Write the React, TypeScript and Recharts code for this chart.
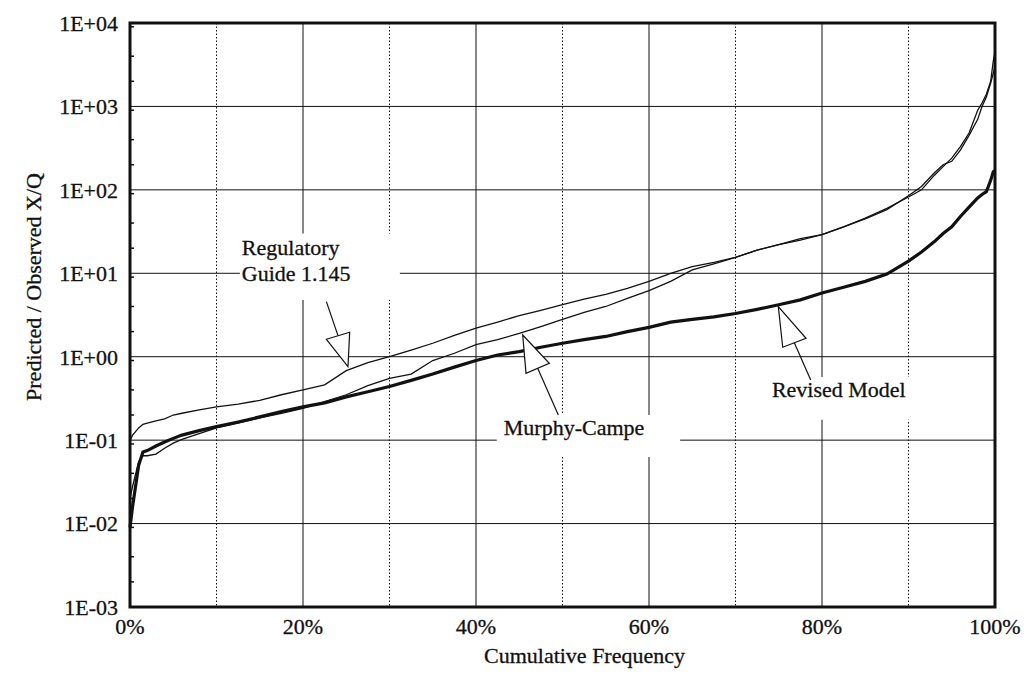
import React from 'react';
import {
  LineChart,
  Line,
  XAxis,
  YAxis,
  CartesianGrid,
  ReferenceArea,
  ReferenceDot,
} from 'recharts';

const pct = [
  0, 0.3, 1, 1.5, 2, 3, 4, 5, 6, 8, 10, 12.5, 15, 17.5, 20, 22.5, 25, 27.5, 30, 32.5, 35, 37.5,
  40, 42.5, 45, 47.5, 50, 52.5, 55, 57.5, 60, 62.5, 65, 67.5, 70, 72.5, 75, 77.5, 80, 82.5, 85,
  87.5, 90, 91.5, 93, 94, 95, 96, 97, 98, 98.5, 99, 99.5, 99.8, 100,
];

const regGuide = [
  0.1, 0.115, 0.14, 0.155, 0.16, 0.17, 0.18, 0.2, 0.21, 0.23, 0.25, 0.27, 0.3, 0.35, 0.4, 0.46,
  0.68, 0.85, 1.0, 1.2, 1.45, 1.8, 2.2, 2.6, 3.1, 3.6, 4.2, 4.9, 5.6, 6.6, 8.0, 10, 12, 13.5,
  15.5, 19, 22, 26, 29, 36, 46, 60, 82, 100, 150, 190, 240, 330, 480, 900, 1100, 1400, 2000,
  3500, 4500,
];

const murphyCampe = [
  0.02, 0.028, 0.055, 0.065, 0.065, 0.068, 0.08, 0.092, 0.102, 0.12, 0.14, 0.16, 0.185, 0.21,
  0.24, 0.29, 0.35, 0.45, 0.55, 0.62, 0.9, 1.1, 1.4, 1.6, 1.9, 2.3, 2.8, 3.4, 4.0, 5.0, 6.2, 8.0,
  11, 13, 15.5, 19, 22, 25, 29, 36, 45, 58, 85, 110, 160, 200, 220, 300, 450, 700, 1000, 1300,
  1900, 2500, 3000,
];

const revisedModel = [
  0.009, 0.016, 0.05, 0.072, 0.075, 0.085, 0.095, 0.105, 0.115, 0.13, 0.145, 0.165, 0.19, 0.22,
  0.25, 0.28, 0.33, 0.38, 0.44, 0.52, 0.62, 0.75, 0.9, 1.05, 1.15, 1.3, 1.45, 1.6, 1.75, 2.0,
  2.25, 2.6, 2.8, 3.0, 3.3, 3.7, 4.2, 4.8, 5.8, 6.8, 8.0, 9.8, 14, 18, 24, 30, 36, 48, 62, 80,
  88, 95, 130, 165, 170,
];

const xTicks = [0, 20, 40, 60, 80, 100];
const xMinorTicks = [10, 30, 50, 70, 90];
const yTicks = [0.001, 0.01, 0.1, 1, 10, 100, 1000, 10000];
const yTickLabels = ['1E-03', '1E-02', '1E-01', '1E+00', '1E+01', '1E+02', '1E+03', '1E+04'];
// small log ticks (2..9 of each decade) along the left frame
const yMinorTicks = yTicks
  .slice(0, -1)
  .flatMap((d) => [2, 3, 4, 5, 6, 7, 8, 9].map((m) => +(m * d).toPrecision(3)));

const data = pct.map((p, i) => ({
  p,
  reg: regGuide[i],
  mc: murphyCampe[i],
  rev: revisedModel[i],
}));

const FONT = '"Liberation Serif", "Times New Roman", serif';
const INK = '#111';
const textStyle = { fill: INK, fontFamily: FONT, fontSize: 22, stroke: INK, strokeWidth: 0.3 };

// arrow: tip sits on the curve, triangle + tail drawn relative to the tip (px)
function arrowShape(v1: number[], v2: number[], tail: number[][]) {
  return (props: any) => {
    const { cx, cy } = props;
    if (cx == null || cy == null) return null;
    return (
      <g>
        <line
          x1={cx + tail[0][0]}
          y1={cy + tail[0][1]}
          x2={cx + tail[1][0]}
          y2={cy + tail[1][1]}
          stroke={INK}
          strokeWidth={1.2}
        />
        <polygon
          points={`${cx},${cy} ${cx + v1[0]},${cy + v1[1]} ${cx + v2[0]},${cy + v2[1]}`}
          fill="#fff"
          stroke={INK}
          strokeWidth={1.2}
        />
      </g>
    );
  };
}

function boxText(lines: string[], dx: number, dy: number) {
  return (props: any) => {
    const vb = props.viewBox;
    if (!vb) return null;
    return (
      <text x={vb.x + dx} y={vb.y + dy} style={textStyle}>
        {lines.map((t, i) => (
          <tspan key={t} x={vb.x + dx} y={vb.y + dy + i * 26}>
            {t}
          </tspan>
        ))}
      </text>
    );
  };
}

export default function App() {
  return (
    <div style={{ position: 'absolute', left: 0, top: 0, background: '#fff' }}>
      <LineChart
        width={1024}
        height={676}
        data={data}
        margin={{ top: 23, right: 29, left: 10, bottom: 10 }}
      >
        <CartesianGrid stroke={INK} strokeWidth={1} />
        <CartesianGrid
          xAxisId="minor"
          horizontal={false}
          stroke={INK}
          strokeWidth={1}
          strokeDasharray="1.5 2"
        />
        <XAxis
          dataKey="p"
          type="number"
          domain={[0, 100]}
          ticks={xTicks}
          tickFormatter={(v) => `${v}%`}
          tickLine={false}
          axisLine={false}
          tickSize={6}
          tickMargin={5}
          height={59}
          tick={textStyle}
          label={{
            content: (props: any) => {
              const vb = props.viewBox;
              return (
                <text
                  x={vb.x + vb.width / 2 + 22}
                  y={vb.y + 56}
                  textAnchor="middle"
                  style={textStyle}
                >
                  Cumulative Frequency
                </text>
              );
            },
          }}
        />
        <XAxis xAxisId="minor" dataKey="p" type="number" domain={[0, 100]} ticks={xMinorTicks} hide />
        <YAxis
          scale="log"
          domain={[0.001, 10000]}
          ticks={yTicks}
          allowDataOverflow
          tickFormatter={(v) => yTickLabels[yTicks.indexOf(v)] ?? ''}
          tickLine={false}
          axisLine={false}
          tickSize={6}
          tickMargin={6}
          width={120}
          tick={textStyle}
          label={{
            content: (props: any) => {
              const vb = props.viewBox;
              const cx = vb.x + 31;
              const cy = vb.y + vb.height / 2 - 28;
              return (
                <text
                  x={cx}
                  y={cy}
                  transform={`rotate(-90, ${cx}, ${cy})`}
                  textAnchor="middle"
                  style={textStyle}
                >
                  Predicted / Observed X/Q
                </text>
              );
            },
          }}
        />
        <YAxis
          yAxisId="minor"
          scale="log"
          domain={[0.001, 10000]}
          ticks={yMinorTicks}
          allowDataOverflow
          mirror
          axisLine={false}
          tickLine={{ stroke: INK, strokeWidth: 1.5 }}
          tickSize={4}
          tick={() => <g />}
        />

        {/* white boxes behind the annotation texts */}
        <ReferenceArea
          x1={12.7}
          x2={31.2}
          y1={4.8}
          y2={30}
          fill="#fff"
          fillOpacity={1}
          stroke="none"
          label={{ content: boxText(['Regulatory', 'Guide 1.145'], 2, 22) }}
        />
        <ReferenceArea
          x1={42.4}
          x2={63.6}
          y1={0.063}
          y2={0.2}
          fill="#fff"
          fillOpacity={1}
          stroke="none"
          label={{ content: boxText(['Murphy-Campe'], 7, 20) }}
        />
        <ReferenceArea
          x1={73.4}
          x2={91.3}
          y1={0.175}
          y2={0.57}
          fill="#fff"
          fillOpacity={1}
          stroke="none"
          label={{ content: boxText(['Revised Model'], 7, 20) }}
        />

        <Line
          dataKey="reg"
          type="linear"
          stroke={INK}
          strokeWidth={1.3}
          dot={false}
          isAnimationActive={false}
        />
        <Line
          dataKey="mc"
          type="linear"
          stroke={INK}
          strokeWidth={1.3}
          dot={false}
          isAnimationActive={false}
        />
        <Line
          dataKey="rev"
          type="linear"
          stroke={INK}
          strokeWidth={3.2}
          dot={false}
          isAnimationActive={false}
        />

        <ReferenceDot
          x={25.2}
          y={0.76}
          r={1}
          shape={arrowShape([-21.6, -27.4], [1.7, -34.4], [[-10, -31], [-21.6, -65]])}
        />
        <ReferenceDot
          x={45.4}
          y={1.82}
          r={1}
          shape={arrowShape([3.3, 38.3], [26.6, 28.3], [[15, 33.3], [35.6, 80]])}
        />
        <ReferenceDot
          x={74.95}
          y={3.98}
          r={1}
          shape={arrowShape([4.4, 40.6], [27.7, 31.6], [[16, 36], [32.4, 73.3]])}
        />

        {/* plot frame */}
        <ReferenceArea
          x1={0}
          x2={100}
          y1={0.001}
          y2={10000}
          fill="none"
          stroke={INK}
          strokeWidth={3}
          ifOverflow="visible"
        />
      </LineChart>
    </div>
  );
}
